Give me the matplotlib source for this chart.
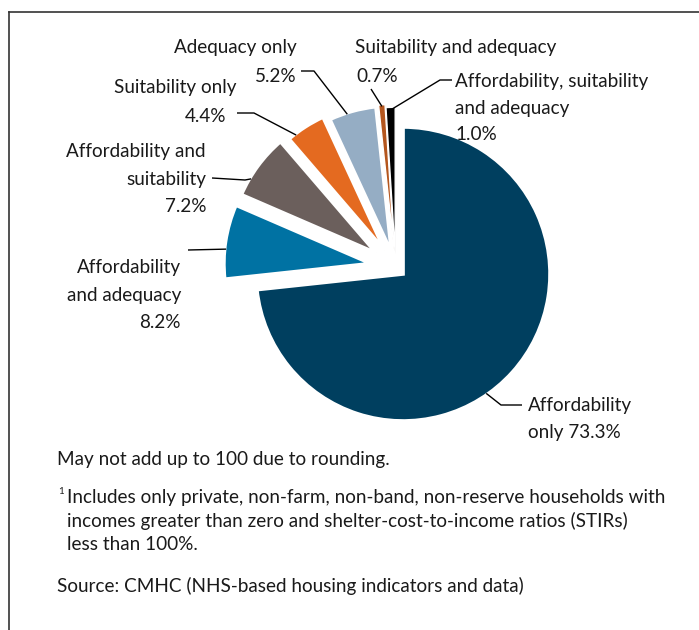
import matplotlib
matplotlib.use("Agg")
import matplotlib.pyplot as plt
import numpy as np

# ---- data ----
categories = ["Affordability only", "Affordability and adequacy", "Affordability and suitability",
              "Suitability only", "Adequacy only", "Suitability and adequacy",
              "Affordability, suitability and adequacy"]
values = [73.3, 8.2, 7.2, 4.4, 5.2, 0.7, 1.0]
colors = ["#003F5F", "#0072A3", "#6B5F5C", "#E46A20", "#95ADC4", "#B4561E", "#000000"]
explode_px = [10, 25, 24, 20, 15, 16, 13]
edge_lw = [2.6, 2.6, 2.6, 2.6, 2.6, 1.0, 1.0]

W, H = 699, 630
plt.rcParams['font.family'] = ['Lato', 'DejaVu Sans']
FS = 13.6

fig = plt.figure(figsize=(W / 100, H / 100), dpi=100)
ax = fig.add_axes([0, 0, 1, 1])

def Y(py):
    return H - py

cx, cy = 395.6, 267.3
R = 147
wedges, _ = ax.pie(values, colors=colors, explode=explode_px, radius=R, center=(cx, Y(cy)),
                   startangle=90, counterclock=False, frame=True,
                   wedgeprops=dict(edgecolor='white', linewidth=2.6))
for w, lw in zip(wedges, edge_lw):
    w.set_linewidth(lw)
ax.set_xlim(0, W)
ax.set_ylim(0, H)
ax.set_aspect('equal')
ax.axis('off')

def edge_point(i, frac=0.5):
    w = wedges[i]
    th = np.deg2rad(w.theta1 + frac * (w.theta2 - w.theta1))
    x0, y0 = w.center
    r = w.r - 1.5
    return x0 + r * np.cos(th), y0 + r * np.sin(th)

def leader(i, pts, frac=0.5):
    ex, ey = edge_point(i, frac)
    xs = [p[0] for p in pts] + [ex]
    ys = [Y(p[1]) for p in pts] + [ey]
    ax.plot(xs, ys, color='black', lw=1.0, solid_capstyle='butt')

def label(lines, x, y0, pitch, ha):
    for k, s in enumerate(lines):
        ax.text(x, Y(y0 + k * pitch), s, ha=ha, va='center', fontsize=FS, color='#1a1a1a')

# labels
label(["Adequacy only"], 297, 48, 28, 'right')
label(["5.2%"], 297, 76, 28, 'right')
leader(4, [(301, 71), (314, 71)], 0.62)

label(["Suitability and adequacy"], 355, 48, 28, 'left')
label(["0.7%"], 356, 76, 28, 'left')
leader(5, [(371, 89)], 0.5)

label(["Affordability, suitability", "and adequacy", "1.0%"], 455, 82, 26.5, 'left')
leader(6, [(452, 80), (440, 80)], 0.3)

label(["Suitability only"], 236, 88, 28, 'right')
label(["4.4%"], 226, 116, 28, 'right')
leader(3, [(237, 113), (254, 113)], 0.8)

label(["Affordability and", "suitability", "7.2%"], 206, 152, 27.5, 'right')
leader(2, [(212, 178), (245, 180)], 0.72)

label(["Affordability", "and adequacy", "8.2%"], 181, 268, 27.5, 'right')
leader(1, [(188, 250)], 0.6)

label(["Affordability", "only 73.3%"], 528, 405, 27.5, 'left')
leader(0, [(522, 405), (501, 405)], 0.45)

# footnotes
ax.text(57, Y(459), "May not add up to 100 due to rounding.", ha='left', va='center', fontsize=FS, color='#1a1a1a')
ax.text(58, Y(491), "1", ha='left', va='center', fontsize=7, color='#1a1a1a')
for k, s in enumerate(["Includes only private, non-farm, non-band, non-reserve households with",
                       "incomes greater than zero and shelter-cost-to-income ratios (STIRs)",
                       "less than 100%."]):
    ax.text(67, Y(497 + k * 23.5), s, ha='left', va='center', fontsize=FS, color='#1a1a1a')
ax.text(57, Y(586), "Source: CMHC (NHS-based housing indicators and data)", ha='left', va='center',
        fontsize=FS, color='#1a1a1a')

# frame lines
ax.plot([9, 9], [Y(12), Y(H)], color='#333333', lw=1.2)
ax.plot([9, W], [Y(12), Y(12)], color='#333333', lw=1.2)

fig.savefig("out.png", dpi=100)
